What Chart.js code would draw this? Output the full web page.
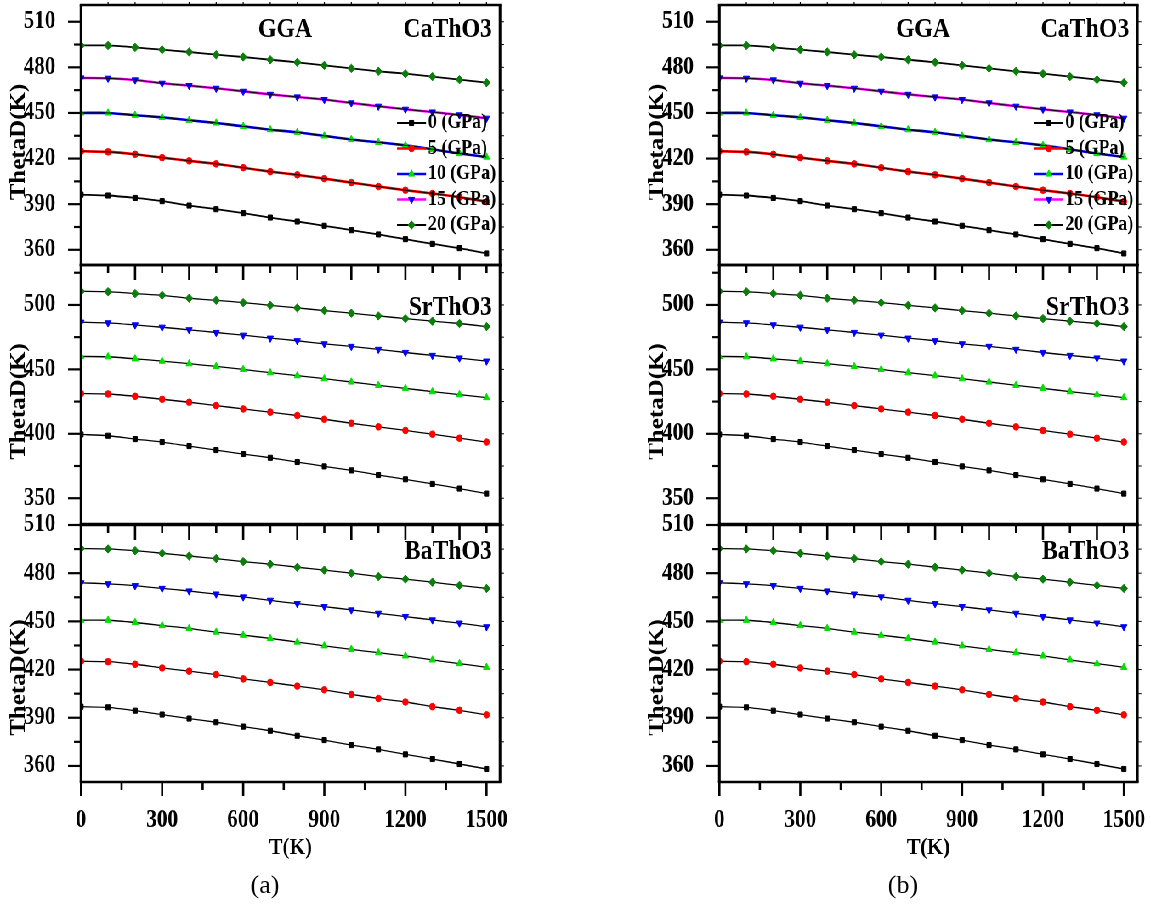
<!DOCTYPE html>
<html>
<head>
<meta charset="utf-8">
<title>ThetaD vs T</title>
<script src="https://cdn.jsdelivr.net/npm/chart.js@4.4.1/dist/chart.umd.min.js"></script>
<style>
  html, body { margin: 0; padding: 0; background: #fff; }
  body { width: 1151px; height: 909px; position: relative; overflow: hidden; }
  /* the original figure is a bit squeezed sideways, so draw wide and squeeze */
  #stage { position: absolute; left: 0; top: 0; width: 1400px; height: 909px; transform: scaleX(0.85); transform-origin: 0 0; }
  #stage canvas { position: absolute; }
  .cap { position: absolute; top: 870px; width: 80px; height: 32px; line-height: 32px; text-align: center;
         font: 26px "Liberation Serif", serif; color: #000; }
</style>
</head>
<body>
<div id="stage"></div>
<div class="cap" style="left:225px">(a)</div>
<div class="cap" style="left:863px">(b)</div>
<script>
const S = 0.85; // horizontal squeeze used on #stage

const temps = [0, 100, 200, 300, 400, 500, 600, 700, 800, 900, 1000, 1100, 1200, 1300, 1400, 1500];
const pressureLabels = ['0 (GPa)', '5 (GPa)', '10 (GPa)', '15 (GPa)', '20 (GPa)'];

// CaThO3
const ca0  = [396.3, 395.7, 394.1, 392.0, 389.1, 386.7, 384.1, 381.2, 378.6, 375.8, 372.9, 370.1, 367.0, 363.9, 361.1, 357.6];
const ca5  = [424.8, 424.4, 422.8, 420.6, 418.5, 416.5, 414.0, 411.4, 409.3, 406.8, 404.2, 401.6, 399.2, 397.0, 394.6, 391.7];
const ca10 = [450.0, 450.0, 448.5, 447.1, 445.2, 443.4, 441.2, 439.0, 437.3, 434.9, 432.5, 430.7, 428.7, 426.1, 423.3, 421.0];
const ca15 = [473.0, 472.8, 471.7, 469.5, 468.0, 466.2, 464.2, 462.2, 460.5, 458.8, 456.6, 454.4, 452.4, 450.6, 448.7, 446.5];
const ca20 = [494.4, 494.4, 493.1, 491.6, 490.1, 488.3, 486.8, 485.0, 483.3, 481.3, 479.3, 477.4, 475.8, 473.9, 471.9, 469.9];

// SrThO3
const sr0  = [399.5, 398.5, 395.9, 393.6, 390.5, 387.4, 384.3, 381.4, 378.1, 374.7, 371.6, 368.0, 364.7, 361.1, 357.5, 353.6];
const sr5  = [431.2, 430.9, 429.1, 426.8, 424.5, 421.9, 419.3, 416.8, 414.2, 411.3, 408.2, 405.4, 402.6, 399.7, 396.6, 393.6];
const sr10 = [460.0, 459.8, 458.2, 456.4, 454.4, 452.3, 450.0, 447.4, 445.1, 442.8, 440.2, 437.6, 435.3, 432.7, 430.4, 428.1];
const sr15 = [486.6, 486.1, 484.5, 482.7, 480.7, 478.6, 476.5, 474.2, 472.2, 469.8, 467.8, 465.5, 463.1, 460.8, 458.8, 456.4];
const sr20 = [510.6, 510.3, 508.8, 507.5, 505.2, 503.6, 501.8, 499.7, 497.7, 495.6, 493.6, 491.5, 489.4, 487.4, 485.6, 483.2];

// BaThO3
const ba0  = [396.9, 396.5, 394.4, 392.0, 389.5, 387.2, 384.5, 381.9, 378.8, 376.1, 373.0, 370.3, 367.2, 364.3, 361.2, 358.1];
const ba5  = [425.2, 424.9, 423.3, 421.0, 419.0, 416.9, 414.2, 412.0, 409.7, 407.4, 404.5, 402.0, 399.8, 396.9, 394.6, 391.8];
const ba10 = [450.7, 450.7, 449.3, 447.4, 445.6, 443.3, 441.4, 439.4, 437.1, 434.8, 432.6, 430.5, 428.5, 426.0, 423.7, 421.4];
const ba15 = [474.0, 473.4, 472.2, 470.5, 468.9, 467.0, 465.2, 463.1, 461.0, 459.2, 457.1, 455.0, 453.0, 450.9, 448.9, 446.6];
const ba20 = [495.3, 495.1, 494.0, 492.4, 490.7, 489.1, 487.2, 485.6, 483.7, 481.9, 480.0, 477.9, 476.3, 474.4, 472.4, 470.5];

// tick labels
const xLabels = [0, 300, 600, 900, 1200, 1500];
const yLabelsCa = [360, 390, 420, 450, 480, 510];
const yLabelsSr = [350, 400, 450, 500];
const yLabelsBa = [360, 390, 420, 450, 480, 510];

// marker and line styles per pressure
const markerStyles = [
  { pointStyle: 'rect', color: '#000000', radius: 3.6, rotation: 0 },
  { pointStyle: 'circle', color: '#ff0000', radius: 3.3, rotation: 0 },
  { pointStyle: 'triangle', color: '#00e000', radius: 4.2, rotation: 0 },
  { pointStyle: 'triangle', color: '#0000ff', radius: 4.2, rotation: 180 },
  { pointStyle: 'rectRot', color: '#0a7d0a', radius: 4.2, rotation: 0 }
];
const topLineColors = ['#000000', '#ff0000', '#0000ff', '#ff00ff', '#000000'];

const FONT = "'Liberation Serif', serif";
Chart.defaults.font.family = FONT;
Chart.defaults.color = '#000';

function line(ctx, x1, y1, x2, y2, w) {
    ctx.lineWidth = w;
    ctx.beginPath();
    ctx.moveTo(x1, y1);
    ctx.lineTo(x2, y2);
    ctx.stroke();
}

// frame, tick marks, labels and legend, all placed through the chart scales
const framePlugin = {
    id: 'frame',
    afterDatasetsDraw(chart, args, o) {
        const { ctx, chartArea: a } = chart;
        const xs = chart.scales.x, ys = chart.scales.y;
        ctx.save();
        ctx.strokeStyle = '#000';
        ctx.lineCap = 'butt';

        // left and right ticks
        ys.ticks.forEach(t => {
            const py = ys.getPixelForValue(t.value);
            const major = o.yLabels.includes(t.value);
            line(ctx, a.left, py, a.left - (major ? 13 : 7) / S, py, 2.2);
            line(ctx, a.right, py, a.right + 4 / S, py, 1);
        });

        // top edge ticks
        temps.forEach(t => {
            if (t === 0) return;
            const px = xs.getPixelForValue(t);
            if (o.top === 'out') line(ctx, px, a.top, px, a.top - 3, 1 / S);
            else line(ctx, px, a.top, px, a.top + (t % 200 === 0 ? 15 : 8), 2.2 / S);
        });

        // bottom axis ticks
        if (o.bottom) {
            xs.ticks.forEach(t => {
                const px = xs.getPixelForValue(t.value);
                line(ctx, px, a.bottom, px, a.bottom + (xLabels.includes(t.value) ? 14 : 8), 2.2 / S);
            });
        }

        // frame
        const hw = 2.6, vw = 2.6 / S;
        line(ctx, a.left - vw / 2, a.top, a.right + vw / 2, a.top, hw);
        line(ctx, a.left - vw / 2, a.bottom, a.right + vw / 2, a.bottom, hw);
        line(ctx, a.left, a.top, a.left, a.bottom, vw);
        line(ctx, a.right, a.top, a.right, a.bottom, vw);

        // y title, sitting a little below the middle as in the original
        ctx.fillStyle = '#000';
        ctx.textBaseline = 'middle';
        ctx.save();
        ctx.translate(ys.left + 23, (a.top + a.bottom) / 2 + o.titleShift);
        ctx.rotate(-Math.PI / 2);
        ctx.textAlign = 'center';
        ctx.font = `bold 25px ${FONT}`;
        ctx.fillText('ThetaD(K)', 0, 0);
        ctx.restore();

        // in-plot labels
        ctx.font = `bold 28px ${FONT}`;
        o.texts.forEach(tx => {
            ctx.textAlign = tx.align;
            ctx.fillText(tx.text, xs.getPixelForValue(tx.x), ys.getPixelForValue(tx.y));
        });

        // legend
        if (o.legend) {
            const items = chart.data.datasets.filter(d => !d.fitLine);
            items.forEach((d, i) => {
                const ly = a.top + 118 + i * 25.5;
                const x0 = a.right - 103 / S, x1 = a.right - 74 / S;
                ctx.strokeStyle = d.borderColor;
                line(ctx, x0, ly, x1, ly, Math.min(d.borderWidth, 2.4));
                ctx.fillStyle = d.pointBackgroundColor;
                ctx.strokeStyle = d.pointBorderColor;
                ctx.lineWidth = 1;
                const opts = { pointStyle: d.pointStyle, rotation: d.pointRotation, radius: d.pointRadius, borderWidth: 1 };
                if (Chart.helpers && Chart.helpers.drawPoint) {
                    Chart.helpers.drawPoint(ctx, opts, (x0 + x1) / 2, ly);
                } else {
                    ctx.beginPath();
                    ctx.arc((x0 + x1) / 2, ly, d.pointRadius, 0, Math.PI * 2);
                    ctx.fill();
                }
                ctx.fillStyle = '#000';
                ctx.font = `bold 21px ${FONT}`;
                ctx.textAlign = 'left';
                ctx.fillText(d.label, a.right - 72 / S, ly);
            });
        }
        ctx.restore();
    }
};

function buildDatasets(series, colored) {
    const out = [];
    series.forEach((vals, i) => {
        const m = markerStyles[i];
        const pts = temps.map((t, k) => ({ x: t, y: vals[k] }));
        out.push({
            label: pressureLabels[i],
            data: pts,
            borderColor: colored ? topLineColors[i] : '#000',
            borderWidth: colored ? (i === 0 || i === 4 ? 1.8 : 2.6) : 1.3,
            pointStyle: m.pointStyle,
            pointRotation: m.rotation,
            pointRadius: m.radius,
            pointBackgroundColor: m.color,
            pointBorderColor: m.color,
            pointBorderWidth: 1,
            tension: 0.2,
            fill: false
        });
        // thin black fit drawn over the coloured curves in the top plot
        if (colored && i > 0 && i < 4) {
            out.push({ label: '', fitLine: true, data: pts, borderColor: '#000', borderWidth: 1,
                       pointRadius: 0, tension: 0.2, fill: false, order: -1 });
        }
    });
    return out;
}

const subplots = [
    { series: [ca0, ca5, ca10, ca15, ca20], min: 350, max: 521, step: 15, yLabels: yLabelsCa, colored: true, legend: true, titleShift: 7,
      texts: [{ text: 'GGA', x: 755, y: 504.7, align: 'center' }, { text: 'CaThO3', x: 1520, y: 504.7, align: 'right' }] },
    { series: [sr0, sr5, sr10, sr15, sr20], min: 330, max: 531, step: 25, yLabels: yLabelsSr, colored: false, legend: false, titleShift: 7,
      texts: [{ text: 'SrThO3', x: 1520, y: 497.9, align: 'right' }] },
    { series: [ba0, ba5, ba10, ba15, ba20], min: 350, max: 510, step: 15, yLabels: yLabelsBa, colored: false, legend: false, titleShift: 24,
      texts: [{ text: 'BaThO3', x: 1520, y: 493.2, align: 'right' }] }
];

// plot frames in page pixels
const panelFrames = [{ left: 81, right: 500 }, { left: 719, right: 1137 }];
const rowFrames = [{ top: 5, bottom: 265 }, { top: 265, bottom: 524 }, { top: 525, bottom: 782 }];

const stage = document.getElementById('stage');
const AXIS_W = 81 / S;
const bold25 = { size: 25, weight: 'bold' };
const bold24 = { size: 24, weight: 'bold' };

function makeChart(p, r, idx) {
    const sp = subplots[idx];
    const last = idx === 2;
    const padTop = 20, xAxisH = 80, padBottom = last ? 47 : 20;
    const left = p.left / S - AXIS_W;
    const width = Math.round((p.right - p.left) / S + AXIS_W + 30);
    const padRight = width - (p.right / S - left);
    const height = (r.bottom - r.top) + padTop + padBottom + (last ? xAxisH : 0);

    const canvas = document.createElement('canvas');
    canvas.width = width;
    canvas.height = height;
    canvas.style.left = left + 'px';
    canvas.style.top = (r.top - padTop) + 'px';
    stage.appendChild(canvas);

    const xScale = last ? {
        type: 'linear', min: 0, max: 1550,
        afterFit: s => { s.height = xAxisH; s.paddingLeft = 0; s.paddingRight = 0; },
        grid: { display: false }, border: { display: false },
        ticks: { stepSize: 150, autoSkip: false, includeBounds: false, maxRotation: 0, padding: 16,
                 color: '#000', font: bold25, callback: v => xLabels.includes(v) ? String(v) : '' },
        title: { display: true, text: 'T(K)', color: '#000', font: bold24, padding: { top: 0, bottom: 0 } }
    } : { type: 'linear', min: 0, max: 1550, display: false };

    new Chart(canvas, {
        type: 'line',
        data: { datasets: buildDatasets(sp.series, sp.colored) },
        options: {
            responsive: false,
            animation: false,
            events: [],
            layout: { padding: { left: 0, right: padRight, top: padTop, bottom: padBottom } },
            plugins: {
                legend: { display: false },
                tooltip: { enabled: false },
                frame: { yLabels: sp.yLabels, texts: sp.texts, legend: sp.legend, titleShift: sp.titleShift,
                         top: idx === 0 ? 'out' : 'in', bottom: last }
            },
            scales: {
                x: xScale,
                y: {
                    type: 'linear', min: sp.min, max: sp.max,
                    afterFit: s => { s.width = AXIS_W; s.paddingTop = 0; s.paddingBottom = 0; },
                    grid: { display: false }, border: { display: false },
                    ticks: { stepSize: sp.step, autoSkip: false, includeBounds: false, padding: 22,
                             color: '#000', font: bold25, callback: v => sp.yLabels.includes(v) ? String(v) : '' }
                }
            }
        },
        plugins: [framePlugin]
    });
}

panelFrames.forEach(p => rowFrames.forEach((r, i) => makeChart(p, r, i)));
</script>
</body>
</html>
